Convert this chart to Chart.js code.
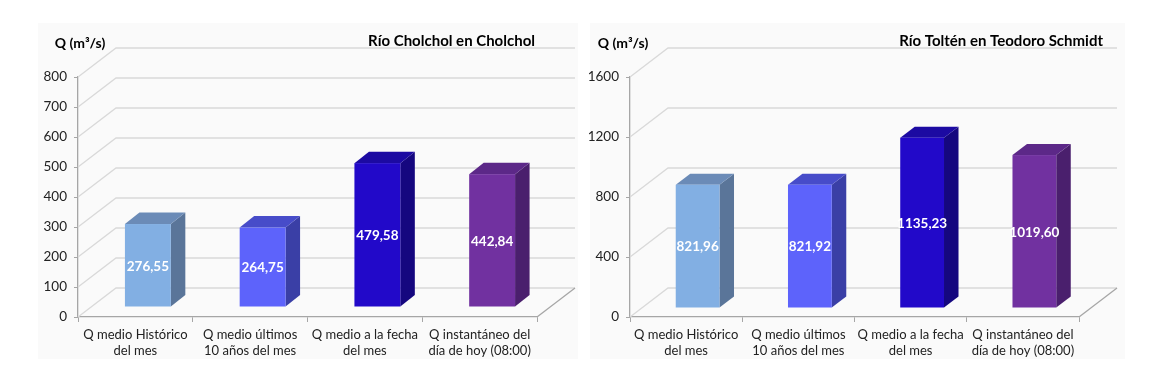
<!DOCTYPE html>
<html>
<head>
<meta charset="utf-8">
<script src="https://cdn.jsdelivr.net/npm/chart.js@4"></script>
<style>
  html, body { margin: 0; padding: 0; background: #fff; }
  body { width: 1167px; height: 380px; position: relative; overflow: hidden; }
  .panel { position: absolute; background: #fafafa; }
  .wrap { position: absolute; top: 0; height: 380px; }
</style>
</head>
<body>
<div class="panel" style="left:38px;top:23px;width:540px;height:336px"></div>
<div class="panel" style="left:590px;top:23px;width:535px;height:336px"></div>
<div class="wrap" style="left:0;width:583px"><canvas id="c-cholchol"></canvas></div>
<div class="wrap" style="left:583px;width:584px"><canvas id="c-tolten"></canvas></div>
<script>
/* ===== DATA ===== */
const categories = [
  ["Q medio Histórico", "del mes"],
  ["Q medio últimos", "10 años del mes"],
  ["Q medio a la fecha", "del mes"],
  ["Q instantáneo del", "día de hoy (08:00)"],
];
const cholcholValues = [276.55, 264.75, 479.58, 442.84];
const toltenValues = [821.96, 821.92, 1135.23, 1019.6];
const cholcholTicks = [0, 100, 200, 300, 400, 500, 600, 700, 800];
const toltenTicks = [0, 400, 800, 1200, 1600];

/* ===== STYLE ===== */
const FONT = "Lato, 'Open Sans', sans-serif";
const faceColors = [
  { front: "#82afe3", side: "#5a7599", top: "#6b8bb7" },
  { front: "#5d63fb", side: "#3a3fa6", top: "#474cc9" },
  { front: "#2209c9", side: "#15077f", top: "#1c0aa2" },
  { front: "#7131a0", side: "#4a1f6d", top: "#5c2888" },
];
const FLOOR = { dx: 38, dy: -29 };

function fmt(v) {
  return v.toFixed(2).replace(".", ",");
}

/* ===== 3D PLUGIN ===== */
const bars3d = {
  id: "bars3d",
  beforeDatasetsDraw(chart, args, opts) {
    const { ctx, chartArea: a } = chart;
    const ys = chart.scales.y;
    ctx.save();
    ctx.lineWidth = 1.3;
    // back wall + floor gridlines
    ys.ticks.forEach((t) => {
      const y = ys.getPixelForValue(t.value);
      ctx.strokeStyle = "#d9d9d9";
      ctx.beginPath();
      ctx.moveTo(a.left, y);
      ctx.lineTo(a.left + FLOOR.dx, y + FLOOR.dy);
      ctx.lineTo(a.right + FLOOR.dx, y + FLOOR.dy);
      ctx.stroke();
    });
    // floor right edge
    ctx.strokeStyle = "#a6a6a6";
    ctx.beginPath();
    ctx.moveTo(a.right, a.bottom);
    ctx.lineTo(a.right + FLOOR.dx, a.bottom + FLOOR.dy);
    ctx.stroke();
    ctx.restore();
  },
  afterDatasetsDraw(chart, args, opts) {
    const { ctx } = chart;
    const meta = chart.getDatasetMeta(0);
    const vals = chart.data.datasets[0].data;
    ctx.save();
    meta.data.forEach((bar, i) => {
      const c = faceColors[i];
      const l = bar.x - bar.width / 2 + opts.fdx;
      const r = bar.x + bar.width / 2 + opts.fdx;
      const top = bar.y + opts.fdy;
      const bot = bar.base + opts.fdy;
      // side
      ctx.fillStyle = c.side;
      ctx.beginPath();
      ctx.moveTo(r, top);
      ctx.lineTo(r + opts.bdx, top + opts.bdy);
      ctx.lineTo(r + opts.bdx, bot + opts.bdy);
      ctx.lineTo(r, bot);
      ctx.closePath();
      ctx.fill();
      // top
      ctx.fillStyle = c.top;
      ctx.beginPath();
      ctx.moveTo(l, top);
      ctx.lineTo(l + opts.bdx, top + opts.bdy);
      ctx.lineTo(r + opts.bdx, top + opts.bdy);
      ctx.lineTo(r, top);
      ctx.closePath();
      ctx.fill();
      // front
      ctx.fillStyle = c.front;
      ctx.fillRect(l, top, r - l, bot - top);
      // value label
      ctx.fillStyle = "#ffffff";
      ctx.font = "bold 13.5px " + FONT;
      ctx.textAlign = "center";
      ctx.textBaseline = "middle";
      ctx.fillText(fmt(vals[i]), (l + r) / 2, (top + bot) / 2 + 1);
    });
    // titles
    ctx.fillStyle = "#000";
    ctx.font = "bold 14px " + FONT;
    ctx.textAlign = "center";
    ctx.textBaseline = "middle";
    ctx.fillText("Q (m³/s)", opts.unitX, 43);
    ctx.font = "bold 15px " + FONT;
    ctx.textAlign = "right";
    ctx.fillText(opts.title, opts.titleX, 41);
    ctx.restore();
  },
};

/* ===== CHART BUILDER ===== */
function makeChart(id, values, ticks, cfg) {
  const ctx = document.getElementById(id).getContext("2d");
  return new Chart(ctx, {
    type: "bar",
    data: {
      labels: categories,
      datasets: [
        {
          data: values,
          backgroundColor: "rgba(0,0,0,0)",
          barPercentage: cfg.barPct,
          categoryPercentage: 1,
        },
      ],
    },
    options: {
      responsive: true,
      maintainAspectRatio: false,
      animation: false,
      layout: { padding: { left: 0, top: 77, right: cfg.padRight, bottom: 0 } },
      plugins: {
        legend: { display: false },
        tooltip: { enabled: false },
        bars3d: cfg.plugin,
      },
      scales: {
        x: {
          grid: {
            offset: true,
            drawOnChartArea: false,
            drawTicks: true,
            tickLength: 5,
            color: "#a6a6a6",
          },
          border: { color: "#a6a6a6", width: 1.3 },
          ticks: {
            color: "#222",
            font: { family: FONT, size: 13, lineHeight: 1.28 },
            padding: 4,
            maxRotation: 0,
            autoSkip: false,
          },
          afterFit: (s) => { s.height = 63; },
        },
        y: {
          min: ticks[0],
          max: ticks[ticks.length - 1],
          afterBuildTicks: (s) => { s.ticks = ticks.map((v) => ({ value: v })); },
          grid: {
            drawOnChartArea: false,
            drawTicks: true,
            tickLength: 4,
            color: "#a6a6a6",
          },
          border: { color: "#a6a6a6", width: 1.3 },
          ticks: {
            color: "#222",
            font: { family: FONT, size: 13.5 },
            padding: 7,
            callback: (v) => String(v),
          },
          afterFit: (s) => { s.width = cfg.axisWidth; },
        },
      },
    },
    plugins: [bars3d],
  });
}

makeChart("c-cholchol", cholcholValues, cholcholTicks, {
  barPct: 0.4,
  padRight: 46,
  axisWidth: 78,
  plugin: { fdx: 12.5, fdy: -10, bdx: 14.5, bdy: -11.5, unitX: 80, titleX: 535, title: "Río Cholchol en Cholchol" },
});
makeChart("c-tolten", toltenValues, toltenTicks, {
  barPct: 0.39,
  padRight: 88,
  axisWidth: 47,
  plugin: { fdx: 11.5, fdy: -9, bdx: 14.5, bdy: -11, unitX: 40, titleX: 520, title: "Río Toltén en Teodoro Schmidt" },
});
</script>
</body>
</html>
